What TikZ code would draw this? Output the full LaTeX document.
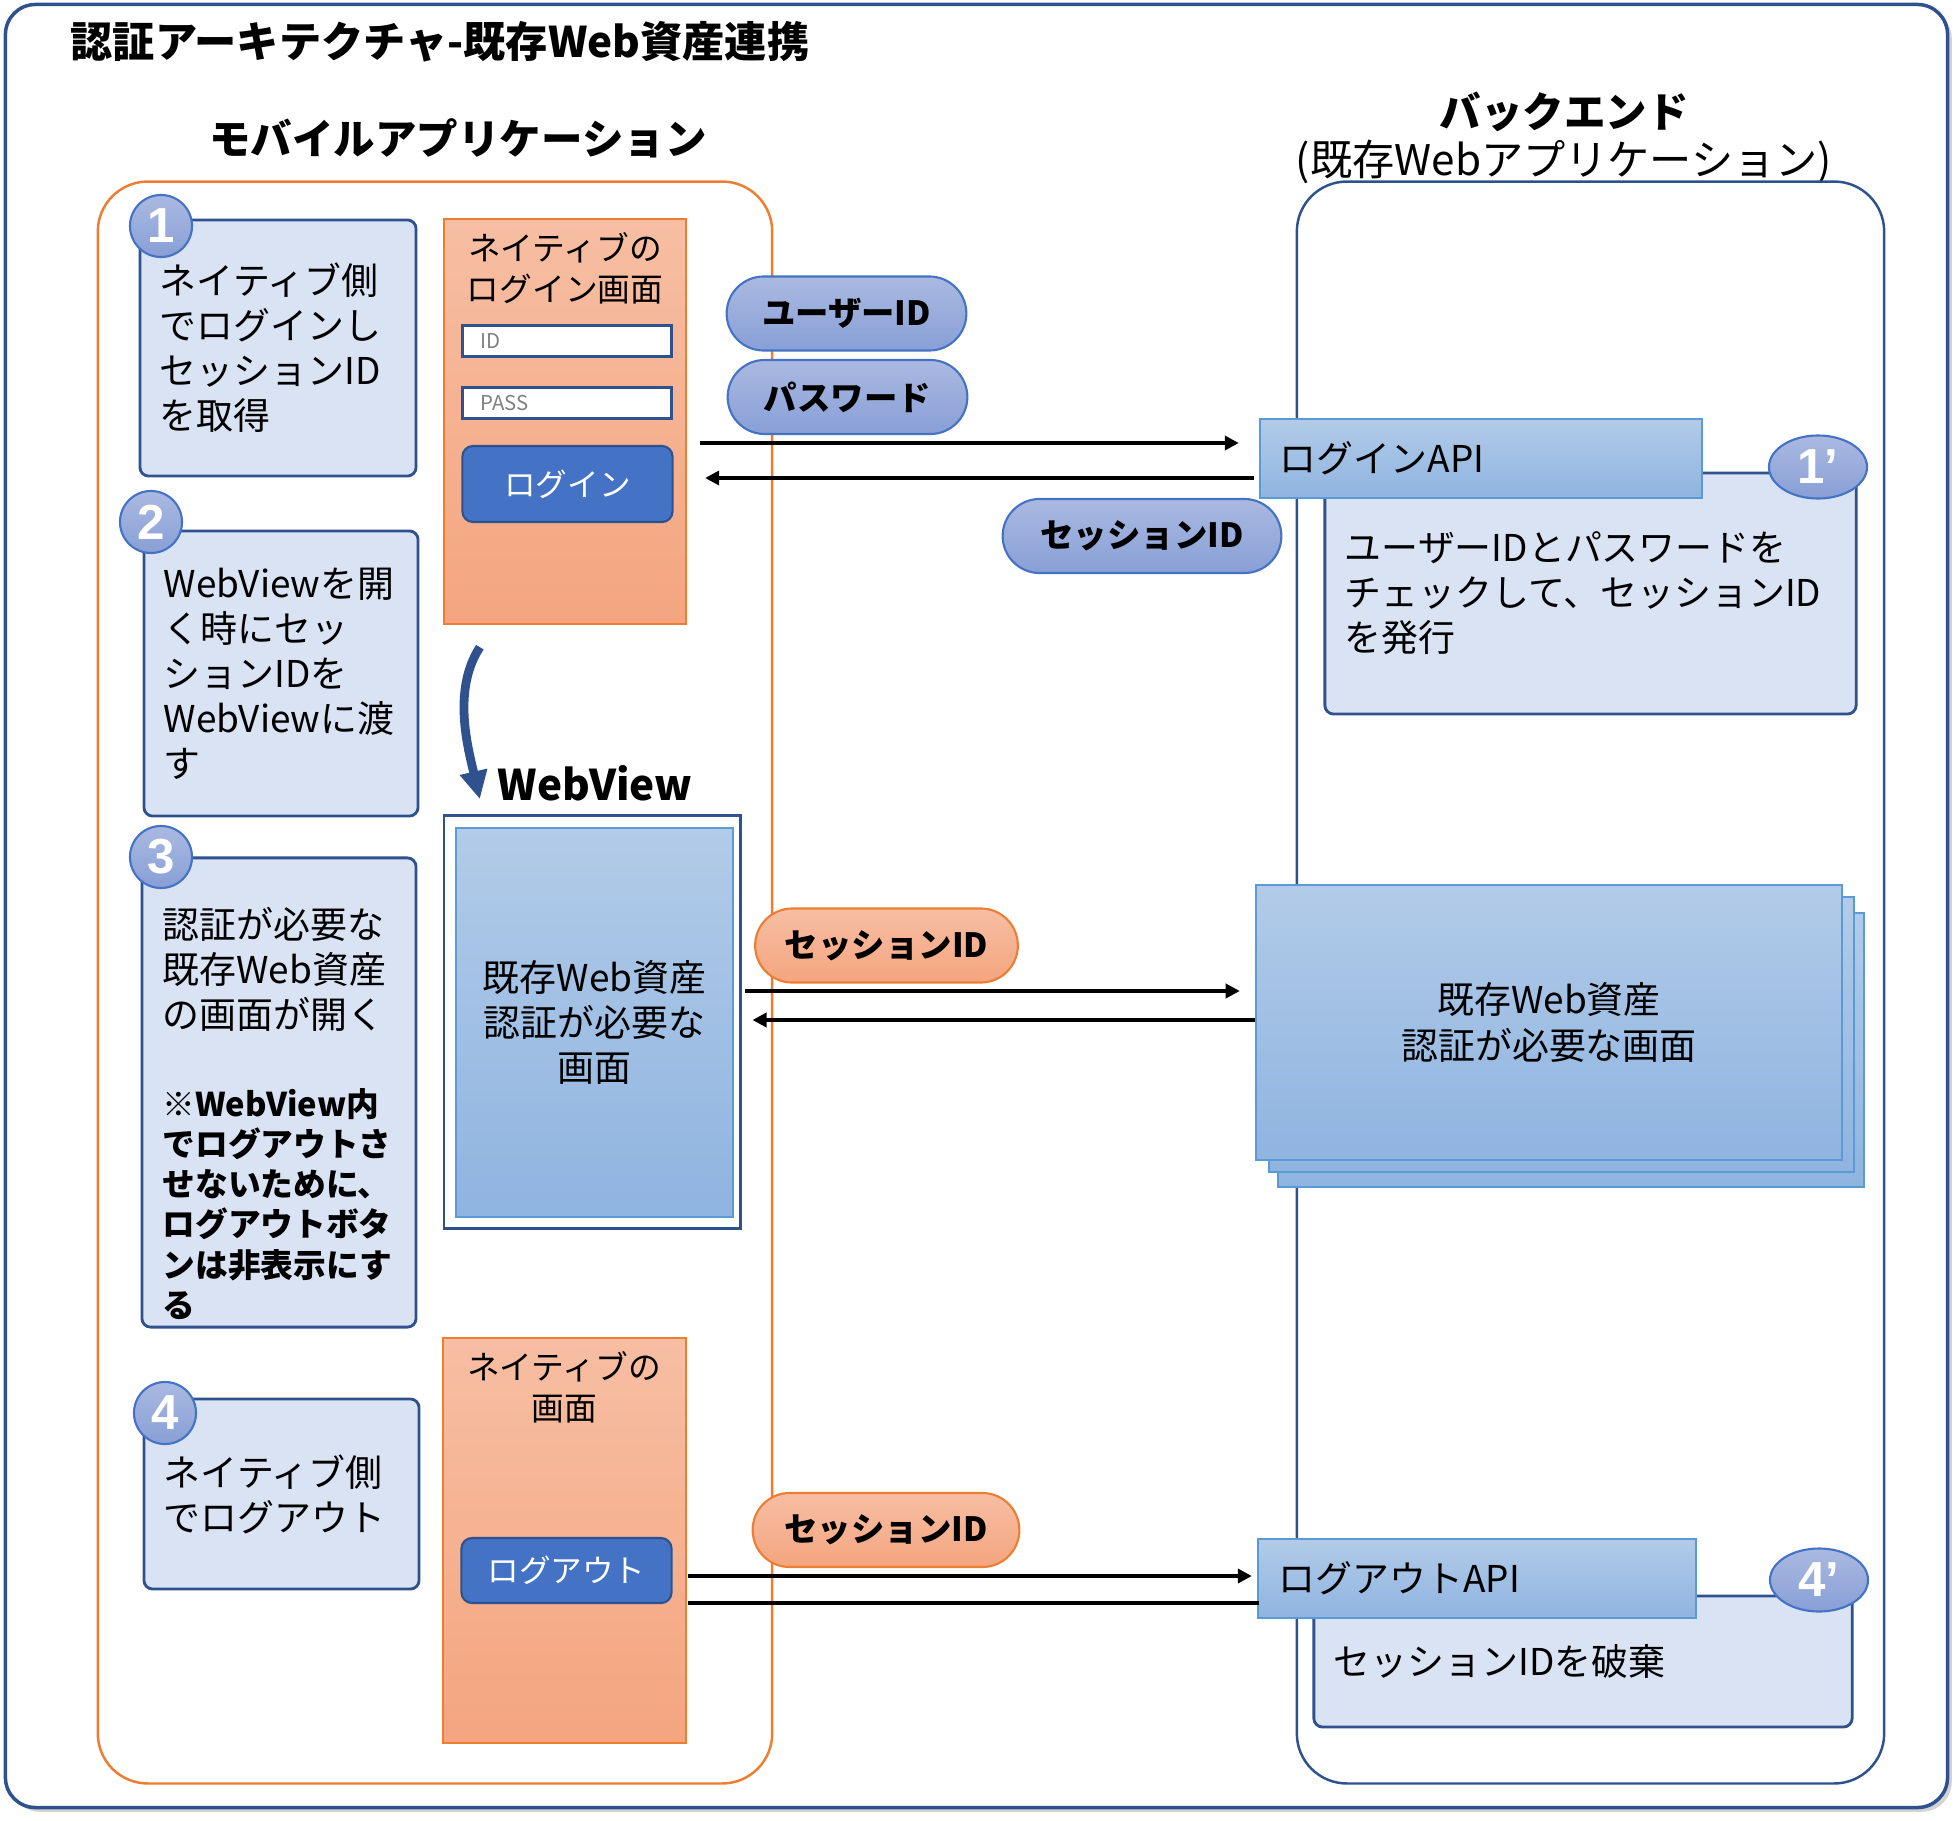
\documentclass[tikz,border=0pt]{standalone}
\usepackage{fontspec}
\setmainfont{Noto Sans CJK JP}
\newfontfamily\digitfont{Liberation Sans}
\usetikzlibrary{shapes,arrows.meta,calc,shadows}
\definecolor{framec}{HTML}{2F528F}
\definecolor{stepc}{HTML}{DAE3F3}
\definecolor{orangec}{HTML}{ED7D31}
\definecolor{orangetop}{HTML}{F7BEA3}
\definecolor{orangebot}{HTML}{F4A57F}
\definecolor{bluetop}{HTML}{B2CBE8}
\definecolor{bluebot}{HTML}{8FB4E0}
\definecolor{bluec}{HTML}{5B9BD5}
\definecolor{pilltop}{HTML}{AAB9E1}
\definecolor{pillbot}{HTML}{889FD6}
\definecolor{btnc}{HTML}{4472C4}
\newcommand{\setsz}[2]{\fontsize{#1}{#2}\selectfont}

\begin{document}
\begin{tikzpicture}[x=0.01cm,y=-0.01cm,
    outerbox/.style={draw=framec,line width=1pt,fill=white,rounded corners=0.3cm,minimum width=19.41cm,minimum height=18.02cm,drop shadow={shadow xshift=1.2pt,shadow yshift=-1.2pt,opacity=0.35}},
    hdr/.style={inner sep=0,font=\bfseries\setsz{11.8}{14}},
    lane/.style={rounded corners=0.5cm,line width=0.7pt,minimum width=#1,minimum height=16.01cm},
    stepbox/.style={draw=framec,line width=0.8pt,fill=stepc,rounded corners=2.5pt,inner xsep=0.2cm,align=left,font=\setsz{10.5}{12.8}},
    numdot/.style={circle,draw=btnc,line width=0.6pt,top color=pilltop,bottom color=pillbot,minimum size=0.62cm,inner sep=0,text=white,font=\digitfont\bfseries\setsz{14}{14}},
    numoval/.style={numdot,ellipse,minimum width=0.98cm,minimum height=0.63cm},
    pill/.style={rounded rectangle,draw=btnc,line width=0.6pt,top color=pilltop,bottom color=pillbot,minimum height=0.74cm,font=\bfseries\setsz{9.5}{10}},
    opill/.style={pill,draw=orangec,top color=orangetop,bottom color=orangebot},
    screen/.style={draw=orangec,line width=0.6pt,top color=orangetop,bottom color=orangebot,minimum width=2.42cm,minimum height=4.05cm},
    field/.style={draw=framec,line width=0.8pt,fill=white,minimum height=0.31cm,inner xsep=0.18cm,inner ysep=0,text width=1.73cm,align=left,text=black!50,font=\setsz{5.8}{6}},
    btn/.style={draw=framec,line width=0.6pt,fill=btnc,rounded corners=3pt,minimum width=2.1cm,text=white,font=\setsz{9}{10}},
    webbox/.style={draw=bluec,line width=0.6pt,top color=bluetop,bottom color=bluebot},
    apibox/.style={webbox,minimum height=0.79cm,inner xsep=0.2cm,align=left,font=\setsz{10.5}{12}},
    wtxt/.style={align=center,font=\setsz{10.5}{12.8}},
    arr/.style={line width=1.2pt,-{Triangle[length=4pt,width=4pt]}},
    bendarr/.style={draw=framec,line width=2.5pt,-{Triangle[length=8pt,width=7.5pt]}}]
  \useasboundingbox (0,0) rectangle (1960,1821);
  \node[outerbox] (frame) at (976.5,906) {};
  \node[hdr,anchor=west,font=\bfseries\setsz{12}{14}] (ttl) at (70,42) {認証アーキテクチャ-既存Web資産連携};
  \node[hdr] (mobhdr) at (458,138) {モバイルアプリケーション};
  \node[hdr] (behdr) at (1564,112) {バックエンド};
  \node[inner sep=0,font=\setsz{12}{14}] (besub) at (1564,162) {(既存Webアプリケーション)};

  \node[lane=6.74cm,draw=orangec] (mob) at (435,982.5) {};
  \node[lane=5.87cm,draw=framec] (be) at (1590.5,982.5) {};

  \node[screen] (loginscr) at (565,421.5) {};
  \node[wtxt,font=\setsz{9.3}{11.7}] (loginttl) at (565,268.5) {ネイティブの\\ログイン画面};
  \node[field,minimum width=2.09cm] (idfld) at (567,341) {ID};
  \node[field,minimum width=2.09cm] (passfld) at (567,403) {PASS};
  \node[btn,minimum height=0.76cm] (loginbtn) at (567.5,484) {ログイン};

  \draw[bendarr] ($(loginscr.south west)+(37,22)$) .. controls (452,690) and (468,748) .. ($(loginscr.south west)+(37,174)$);
  \node[hdr,font=\bfseries\setsz{12}{14}] (wvlbl) at (595,783) {WebView};
  \node[draw=framec,line width=0.8pt,fill=white,minimum width=2.96cm,minimum height=4.12cm] (webframe) at (592,1022) {};
  \node[webbox,wtxt,minimum width=2.77cm,minimum height=3.89cm] (webscr) at (594.5,1022.5) {既存Web資産\\認証が必要な\\画面};

  \node[screen] (logoutscr) at (564.5,1540.5) {};
  \node[wtxt,font=\setsz{9.3}{11.7}] (logoutttl) at (564,1387.5) {ネイティブの\\画面};
  \node[btn,minimum height=0.65cm] (logoutbtn) at (566.5,1570.5) {ログアウト};

  \node[stepbox,minimum width=2.76cm,text width=2.36cm,minimum height=2.56cm] (s1) at (278,348) {ネイティブ側\\でログインし\\セッションID\\を取得};
  \node[numdot] (n1) at (161,226) {1};
  \node[stepbox,minimum width=2.74cm,text width=2.34cm,minimum height=2.85cm] (s2) at (281,673.5) {WebViewを開\\く時にセッ\\ションIDを\\WebViewに渡\\す};
  \node[numdot] (n2) at (151,522) {2};
  \node[stepbox,minimum width=2.74cm,text width=2.34cm,minimum height=4.69cm] (s3) at (279,1092.5) {};
  \node[align=left,inner sep=0,anchor=north west,font=\setsz{10.5}{12.8}] (s3txt) at (162,907) {認証が必要な\\既存Web資産\\の画面が開く};
  \node[align=left,inner sep=0,anchor=north west,font=\bfseries\setsz{9.3}{11.4}] (s3note) at (162,1088) {※WebView内\\でログアウトさ\\せないために、\\ログアウトボタ\\ンは非表示にす\\る};
  \node[numdot] (n3) at (161,857) {3};
  \node[stepbox,minimum width=2.75cm,text width=2.35cm,minimum height=1.90cm] (s4) at (281.5,1494) {ネイティブ側\\でログアウト};
  \node[numdot] (n4) at (165,1413) {4};

  \node[pill,minimum width=2.63cm] (uid) at (846.5,313.5) {ユーザーID};
  \node[pill,minimum width=2.63cm] (pwd) at (847.5,397) {パスワード};
  \node[pill,minimum width=3.02cm] (sid1) at (1142,536) {セッションID};
  \node[opill,minimum width=2.86cm] (sid2) at (886.5,945.5) {セッションID};
  \node[opill,minimum width=2.9cm] (sid3) at (886,1530) {セッションID};

  \node[stepbox,minimum width=5.31cm,text width=4.91cm,minimum height=2.41cm] (s1b) at (1590.5,593.5) {ユーザーIDとパスワードを\\チェックして、セッションID\\を発行};
  \node[apibox,minimum width=4.40cm,text width=4.02cm] (loginapi) at (1481,458.5) {ログインAPI};
  \node[numoval] (n1b) at (1818,467) {1’};

  \node[webbox,minimum width=5.86cm,minimum height=2.74cm] (wa3) at (1571,1050) {};
  \node[webbox,minimum width=5.85cm,minimum height=2.75cm] (wa2) at (1561.5,1034.5) {};
  \node[webbox,wtxt,minimum width=5.86cm,minimum height=2.75cm] (wa1) at (1549,1022.5) {既存Web資産\\認証が必要な画面};

  \node[stepbox,minimum width=5.38cm,text width=4.98cm,minimum height=1.31cm] (s4b) at (1583,1661.5) {セッションIDを破棄};
  \node[apibox,minimum width=4.38cm,text width=3.96cm] (logoutapi) at (1477,1578.5) {ログアウトAPI};
  \node[numoval] (n4b) at (1819,1580) {4’};

  \draw[arr] ($(loginscr.east)+(13,21.5)$) -- ($(loginapi.west)+(-20,-15.5)$);
  \draw[arr] ($(loginapi.west)+(-5,19.5)$) -- ($(loginscr.east)+(18,56.5)$);
  \draw[arr] ($(webframe.east)+(3,-31)$) -- ($(wa1.west)+(-15,-31.5)$);
  \draw[arr] ($(wa1.west)+(0,-2.5)$) -- ($(webframe.east)+(11,-2)$);
  \draw[arr] ($(logoutscr.east)+(1,35.5)$) -- ($(logoutapi.west)+(-5,-2.5)$);
  \draw[line width=1.2pt] ($(logoutscr.east)+(1,62.5)$) -- ($(logoutapi.west)+(2,24.5)$);
\end{tikzpicture}
\end{document}
